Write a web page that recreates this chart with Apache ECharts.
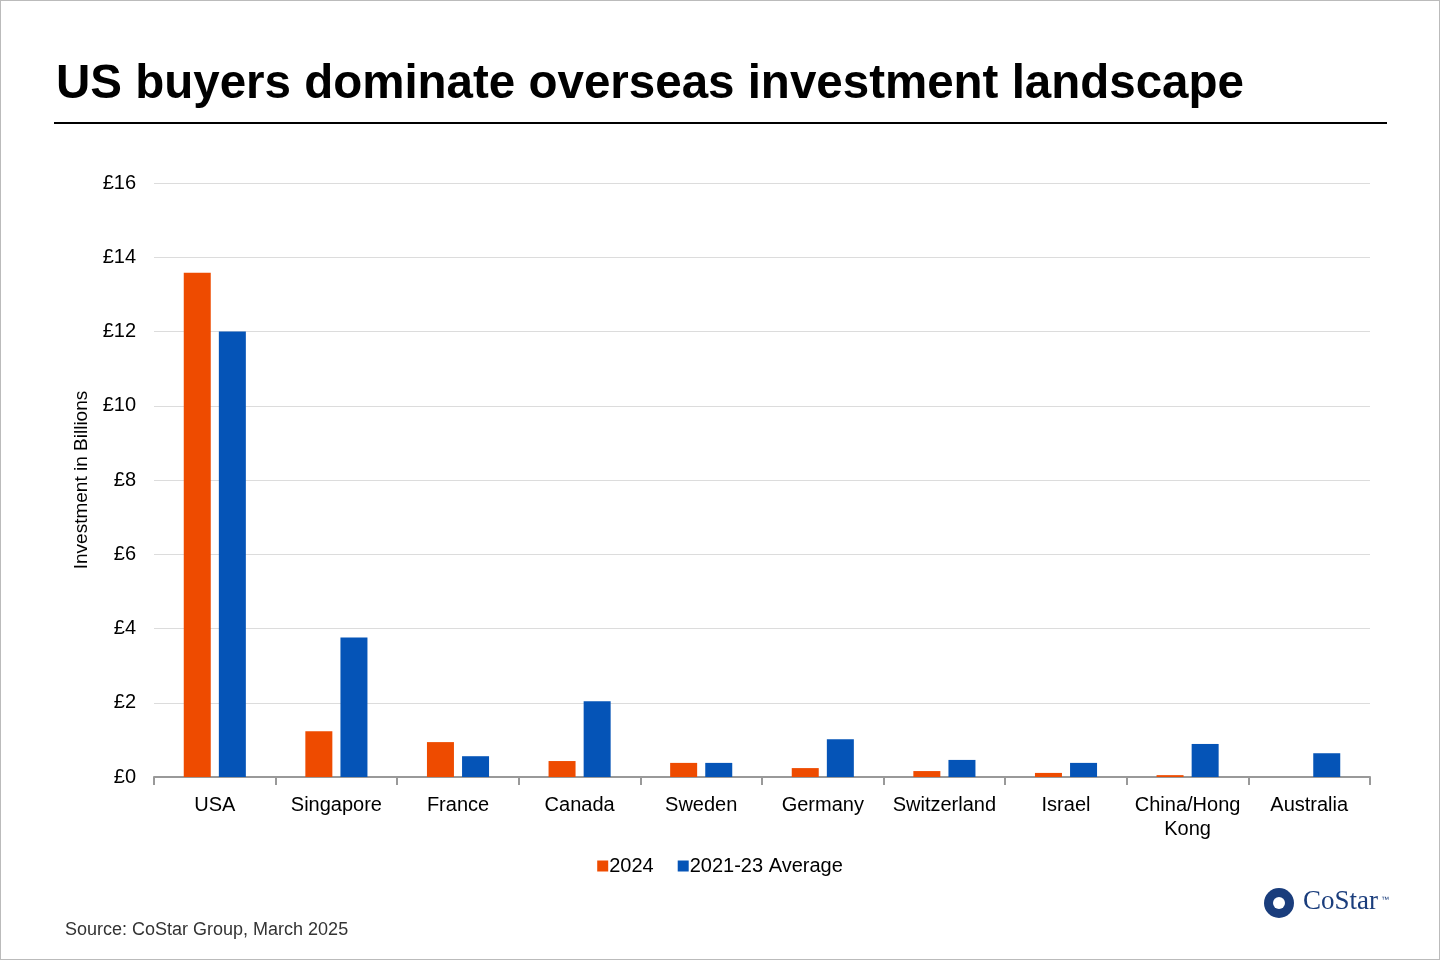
<!DOCTYPE html>
<html><head><meta charset="utf-8">
<script src="https://cdn.jsdelivr.net/npm/echarts@6/dist/echarts.min.js"></script>
<style>html,body{margin:0;padding:0;background:#fff}#c{width:1440px;height:960px;box-sizing:border-box;border:1px solid #bbb}</style>
</head><body><div id="c"></div>
<script>
const categories = ['USA','Singapore','France','Canada','Sweden','Germany','Switzerland','Israel','China/Hong\nKong','Australia'];
const values2024 = [13.58,1.23,0.94,0.43,0.38,0.24,0.16,0.11,0.05,0];
const valuesAvg = [12.0,3.76,0.56,2.04,0.38,1.02,0.46,0.38,0.89,0.64];
const chart = echarts.init(document.getElementById('c'));
const F = 'Liberation Sans, Arial, sans-serif';
chart.setOption({
  animation:false,
  textStyle:{fontFamily:F},
  title:{text:'US buyers dominate overseas investment landscape',left:50,top:55,textStyle:{fontSize:47.5,fontWeight:'bold',color:'#000',fontFamily:F}},
  grid:{left:153,right:69,top:182,bottom:182},
  legend:{bottom:78,left:'center',itemWidth:11,itemHeight:11,itemGap:24,icon:'rect',textStyle:{fontSize:20,color:'#000',padding:[0,0,0,-4]},data:['2024','2021-23 Average']},
  xAxis:{type:'category',data:categories,axisLine:{show:true,lineStyle:{color:'#999',width:2}},axisTick:{show:true,length:8,interval:0,lineStyle:{color:'#999',width:2}},axisLabel:{interval:0,fontSize:20,color:'#000',margin:16,lineHeight:24}},
  yAxis:{type:'value',min:0,max:16,interval:2,name:'Investment in Billions',nameLocation:'middle',nameGap:60,nameTextStyle:{fontSize:19,color:'#000'},
    axisLabel:{fontSize:20,color:'#000',margin:18,formatter:v=>'£'+v},splitLine:{lineStyle:{color:'#dcdcdc'}},axisLine:{show:false},axisTick:{show:false}},
  series:[
    {name:'2024',type:'bar',data:values2024,barWidth:27,barGap:'30%',itemStyle:{color:'#EE4B00'}},
    {name:'2021-23 Average',type:'bar',data:valuesAvg,barWidth:27,itemStyle:{color:'#0554B7'}}
  ],
  graphic:[
    {type:'line',shape:{x1:53,y1:122,x2:1386,y2:122},style:{stroke:'#000',lineWidth:2}},
    {type:'text',left:64,top:920,style:{text:'Source: CoStar Group, March 2025',fontSize:18,fill:'#333',fontFamily:F}},
    {type:'circle',shape:{cx:1278,cy:902,r:15},style:{fill:'#1a3d7c'}},
    {type:'circle',shape:{cx:1278,cy:902,r:6},style:{fill:'#fff'}},
    {type:'text',left:1302,top:887,style:{text:'CoStar',fontSize:27,fill:'#1a3d7c',fontFamily:'Liberation Serif, serif'}},
    {type:'text',left:1380,top:895,style:{text:'™',fontSize:8,fill:'#1a3d7c'}}
  ]
});
</script></body></html>
